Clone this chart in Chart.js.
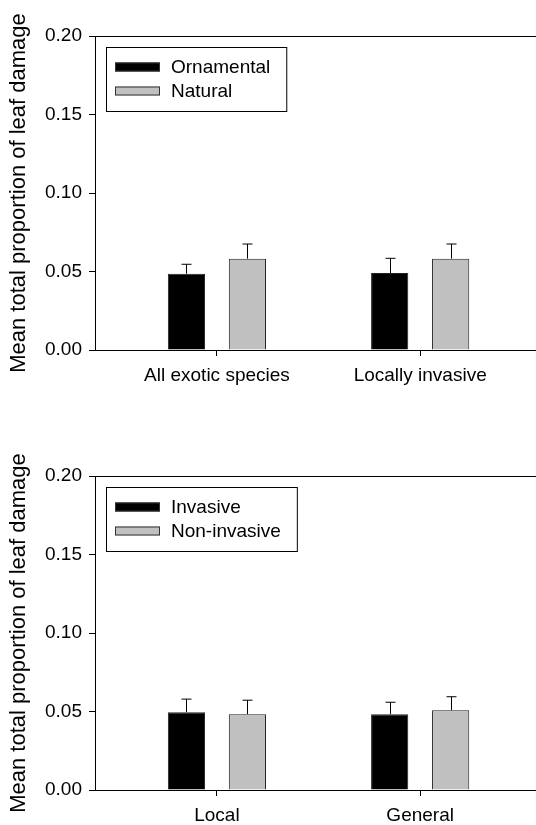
<!DOCTYPE html>
<html>
<head>
<meta charset="utf-8">
<script src="https://cdn.jsdelivr.net/npm/chart.js@4.4.1/dist/chart.umd.min.js"></script>
<style>
  html, body { margin: 0; padding: 0; background: #fff; overflow: hidden; }
  .panel { position: absolute; left: 0; width: 536px; height: 412px; }
</style>
</head>
<body>
<div class="panel" style="top:0px"><canvas id="topChart" width="536" height="412"></canvas></div>
<div class="panel" style="top:440px"><canvas id="bottomChart" width="536" height="412"></canvas></div>
<script>
// data
const topCats = ['All exotic species', 'Locally invasive'];
const ornamental = [0.0486, 0.0490];
const ornamentalErr = [0.0060, 0.0094];
const natural = [0.0582, 0.0582];
const naturalErr = [0.0093, 0.0093];

const bottomCats = ['Local', 'General'];
const invasive = [0.0496, 0.0483];
const invasiveErr = [0.0083, 0.0076];
const nonInvasive = [0.0483, 0.0508];
const nonInvasiveErr = [0.0089, 0.0086];

const groupPos = [1, 2];
const FONT = "'Liberation Sans', Arial, sans-serif";

// error bars (upper only, with a cap)
const errorBars = {
  id: 'errorBars',
  afterDatasetsDraw(chart) {
    const ctx = chart.ctx;
    const yScale = chart.scales.y;
    ctx.save();
    ctx.strokeStyle = '#000';
    ctx.lineWidth = 1;
    chart.data.datasets.forEach((ds, i) => {
      const meta = chart.getDatasetMeta(i);
      meta.data.forEach((bar, j) => {
        const v = ds.data[j].y;
        const top = yScale.getPixelForValue(v + ds.errors[j]);
        const x = Math.round(bar.x) + 0.5;
        ctx.beginPath();
        ctx.moveTo(x, bar.y);
        ctx.lineTo(x, top);
        ctx.moveTo(x - 5, top);
        ctx.lineTo(x + 5, top);
        ctx.stroke();
      });
    });
    ctx.restore();
  }
};

// boxed legend inside the plot, top left
const boxLegend = {
  id: 'boxLegend',
  afterDraw(chart) {
    const ctx = chart.ctx;
    const area = chart.chartArea;
    const left = area.left + 11;
    const top = area.top + 11;
    ctx.save();
    ctx.font = '19px ' + FONT;
    let maxW = 0;
    chart.data.datasets.forEach(ds => { maxW = Math.max(maxW, ctx.measureText(ds.label).width); });
    const w = 65 + maxW + 16;
    const h = 64;
    ctx.fillStyle = '#fff';
    ctx.fillRect(left, top, w, h);
    ctx.strokeStyle = '#000';
    ctx.lineWidth = 1;
    ctx.strokeRect(Math.round(left) + 0.5, Math.round(top) + 0.5, w, h);
    chart.data.datasets.forEach((ds, i) => {
      const cy = top + 20 + i * 24;
      ctx.fillStyle = ds.backgroundColor;
      ctx.fillRect(left + 9, cy - 4.5, 45, 9);
      ctx.strokeStyle = '#333';
      ctx.strokeRect(left + 9.5, cy - 4, 44, 8);
      ctx.fillStyle = '#000';
      ctx.textBaseline = 'middle';
      ctx.fillText(ds.label, left + 65, cy + 1);
    });
    ctx.restore();
  }
};

function makeChart(id, cats, series) {
  const datasets = series.map(s => ({
    label: s.label,
    data: groupPos.map((x, i) => ({ x: x, y: s.values[i] })),
    errors: s.errors,
    backgroundColor: s.color,
    borderColor: '#222',
    borderWidth: 1,
    categoryPercentage: 0.6,
    barPercentage: 0.61
  }));

  return new Chart(document.getElementById(id), {
    type: 'bar',
    data: { datasets: datasets },
    options: {
      responsive: false,
      animation: false,
      layout: { padding: { top: 36, right: 0, left: 0, bottom: 0 } },
      plugins: { legend: { display: false }, tooltip: { enabled: false } },
      scales: {
        x: {
          type: 'linear',
          min: 0.4,
          max: 2.57,
          offset: false,
          afterBuildTicks: axis => { axis.ticks = groupPos.map(v => ({ value: v })); },
          afterFit: axis => { axis.height = 62; },
          grid: { offset: false, drawOnChartArea: false, drawTicks: true, tickLength: 6, color: '#000' },
          border: { display: true, color: '#000', width: 1 },
          ticks: {
            color: '#000',
            padding: 8,
            maxRotation: 0,
            autoSkip: false,
            font: { family: FONT, size: 19 },
            callback: (v, i) => cats[i]
          }
        },
        y: {
          min: 0,
          max: 0.2,
          afterFit: axis => { axis.width = 95; },
          grid: {
            drawOnChartArea: true,
            drawTicks: true,
            tickLength: 6,
            tickColor: '#000',
            color: c => (c.tick && Math.abs(c.tick.value - 0.2) < 1e-9) ? '#000' : 'rgba(0,0,0,0)'
          },
          border: { display: true, color: '#000', width: 1 },
          ticks: {
            stepSize: 0.05,
            color: '#000',
            padding: 7,
            font: { family: FONT, size: 19 },
            callback: v => v.toFixed(2)
          },
          title: {
            display: true,
            text: 'Mean total proportion of leaf damage',
            color: '#000',
            padding: { top: 6, bottom: 0 },
            font: { family: FONT, size: 22 }
          }
        }
      }
    },
    plugins: [errorBars, boxLegend]
  });
}

makeChart('topChart', topCats, [
  { label: 'Ornamental', values: ornamental, errors: ornamentalErr, color: '#000000' },
  { label: 'Natural', values: natural, errors: naturalErr, color: '#c0c0c0' }
]);

makeChart('bottomChart', bottomCats, [
  { label: 'Invasive', values: invasive, errors: invasiveErr, color: '#000000' },
  { label: 'Non-invasive', values: nonInvasive, errors: nonInvasiveErr, color: '#c0c0c0' }
]);
</script>
</body>
</html>
